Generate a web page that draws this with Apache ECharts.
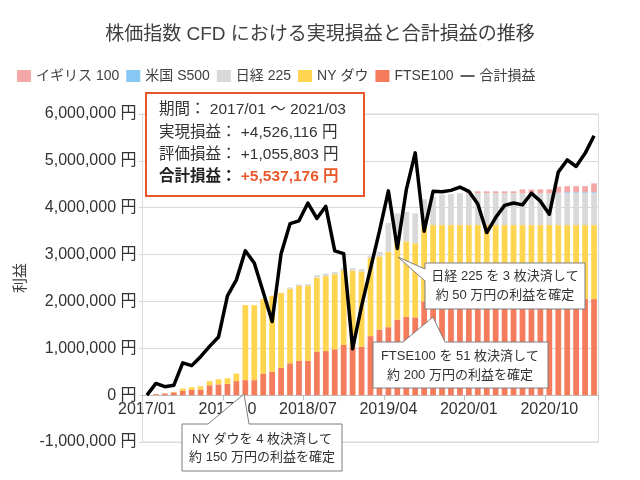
<!DOCTYPE html>
<html>
<head>
<meta charset="utf-8">
<script src="https://cdn.jsdelivr.net/npm/echarts@6/dist/echarts.min.js"></script>
<style>html,body{margin:0;padding:0;background:#fff}#c{width:640px;height:480px}</style>
</head>
<body>
<div id="c"></div>
<script>
const FONT = "'Liberation Sans', 'Noto Sans CJK JP', sans-serif";

const months = [
  '2017/01','2017/02','2017/03','2017/04','2017/05','2017/06','2017/07','2017/08','2017/09','2017/10','2017/11','2017/12',
  '2018/01','2018/02','2018/03','2018/04','2018/05','2018/06','2018/07','2018/08','2018/09','2018/10','2018/11','2018/12',
  '2019/01','2019/02','2019/03','2019/04','2019/05','2019/06','2019/07','2019/08','2019/09','2019/10','2019/11','2019/12',
  '2020/01','2020/02','2020/03','2020/04','2020/05','2020/06','2020/07','2020/08','2020/09','2020/10','2020/11','2020/12',
  '2021/01','2021/02','2021/03'
];

const seriesNames = ['イギリス 100', '米国 S500', '日経 225', 'NY ダウ', 'FTSE100', '合計損益'];

// realized P/L per index (yen), stacked bottom to top: FTSE100, NY, Nikkei, S500, UK100
const ftse100 = [
  0, 20000, 35000, 60000, 90000, 110000, 120000, 210000, 230000, 240000, 300000, 320000,
  320000, 460000, 500000, 580000, 680000, 730000, 730000, 930000, 940000, 980000, 1070000, 1030000,
  1030000, 1260000, 1400000, 1450000, 1610000, 1670000, 1660000, 2000000, 2050000, 2050000, 2050000, 2050000,
  2050000, 2050000, 2050000, 2050000, 2050000, 2050000, 2050000, 2050000, 2050000, 2050000, 2050000, 2050000,
  2050000, 2050000, 2050000
];
const nyDow = [
  0, 0, 5000, 10000, 50000, 60000, 70000, 90000, 110000, 120000, 160000, 1600000,
  1600000, 1590000, 1620000, 1600000, 1590000, 1600000, 1610000, 1580000, 1600000, 1600000, 1600000, 1630000,
  1610000, 1670000, 1560000, 1610000, 1670000, 1610000, 1580000, 1630000, 1580000, 1580000, 1580000, 1580000,
  1580000, 1580000, 1580000, 1580000, 1580000, 1580000, 1580000, 1580000, 1580000, 1580000, 1580000, 1580000,
  1580000, 1580000, 1580000
];
const nikkei225 = [
  0, 0, 0, 0, 0, 0, 0, 0, 0, 0, 0, 0,
  0, 0, 0, 0, 30000, 30000, 30000, 50000, 50000, 50000, 50000, 50000,
  50000, 50000, 100000, 610000, 600000, 630000, 640000, 550000, 600000, 650000, 660000, 680000,
  680000, 680000, 680000, 680000, 680000, 680000, 680000, 680000, 680000, 680000, 680000, 680000,
  680000, 680000, 680000
];
const usS500 = [
  0, 0, 0, 0, 0, 0, 0, 0, 0, 0, 0, 0,
  0, 0, 0, 0, 0, 0, 0, 0, 0, 0, 0, 0,
  0, 0, 0, 0, 0, 0, 0, 0, 0, 0, 0, 0,
  0, 0, 0, 0, 0, 0, 0, 0, 0, 0, 10000, 20000,
  20000, 20000, 20000
];
const uk100 = [
  0, 0, 0, 0, 0, 0, 0, 0, 0, 0, 0, 0,
  0, 0, 0, 0, 0, 0, 0, 0, 0, 0, 0, 0,
  0, 0, 0, 0, 0, 0, 0, 0, 0, 0, 0, 0,
  40000, 40000, 40000, 40000, 40000, 40000, 80000, 80000, 80000, 80000, 130000, 130000,
  130000, 130000, 190000
];
// total P/L (realized + unrealized)
const totalPL = [
  0, 250000, 180000, 210000, 690000, 630000, 820000, 1040000, 1240000, 2120000, 2460000, 3080000,
  2820000, 2200000, 1570000, 3020000, 3660000, 3720000, 4100000, 3770000, 4030000, 3080000, 3020000, 990000,
  1900000, 2700000, 3500000, 4360000, 3130000, 4380000, 5170000, 3500000, 4350000, 4340000, 4370000, 4440000,
  4350000, 4080000, 3470000, 3790000, 4050000, 4100000, 4060000, 4310000, 4140000, 3860000, 4760000, 5020000,
  4880000, 5160000, 5537176
];

const yMin = -1000000, yMax = 6000000, yStep = 1000000;

const colors = {
  uk: '#F4A7A7', us: '#86C8F3', nk: '#D9D9D9', ny: '#FFD54F', ft: '#F47B5B', total: '#000000'
};

function fmtYen(v) {
  return v.toString().replace(/\B(?=(\d{3})+(?!\d))/g, ',') + ' 円';
}

const chart = echarts.init(document.getElementById('c'), null, {renderer: 'canvas'});

const barCommon = {type: 'bar', stack: 'realized', barCategoryGap: '36%', emphasis: {disabled: true}};

const option = {
  animation: false,
  textStyle: {fontFamily: FONT},
  title: {
    text: '株価指数 CFD における実現損益と合計損益の推移',
    left: 'center', top: 20,
    textStyle: {fontFamily: FONT, fontSize: 19, fontWeight: 'normal', color: '#404040'}
  },
  legend: {
    top: 64, left: 12,
    itemWidth: 14, itemHeight: 12, itemGap: 7,
    textStyle: {fontFamily: FONT, fontSize: 14, color: '#404040'},
    data: [
      {name: seriesNames[0], icon: 'rect'},
      {name: seriesNames[1], icon: 'rect'},
      {name: seriesNames[2], icon: 'rect'},
      {name: seriesNames[3], icon: 'rect'},
      {name: seriesNames[4], icon: 'rect'},
      {name: seriesNames[5], icon: 'path://M0,0 L20,0 L20,1.8 L0,1.8 Z', symbolKeepAspect: true}
    ]
  },
  grid: {
    left: 142.5, right: 41.5, top: 114, bottom: 38,
    outerBoundsMode: 'none', containLabel: false,
    show: true, borderColor: '#D9D9D9', borderWidth: 1
  },
  xAxis: {
    type: 'category', data: months, boundaryGap: true,
    axisLine: {onZero: true, lineStyle: {color: '#BFBFBF'}},
    axisTick: {show: true, interval: 8, length: 5, lineStyle: {color: '#BFBFBF'}},
    axisLabel: {interval: 8, fontFamily: FONT, fontSize: 16, color: '#333', margin: -40}
  },
  yAxis: {
    type: 'value', min: yMin, max: yMax, interval: yStep,
    name: '利益', nameLocation: 'middle', nameGap: 112,
    nameTextStyle: {fontFamily: FONT, fontSize: 15, color: '#404040'},
    axisLine: {show: false},
    axisTick: {show: true, length: 4, lineStyle: {color: '#D9D9D9'}},
    splitLine: {lineStyle: {color: '#D9D9D9'}},
    axisLabel: {fontFamily: FONT, fontSize: 16, color: '#333', margin: 6, formatter: fmtYen}
  },
  series: [
    Object.assign({name: seriesNames[4], data: ftse100, itemStyle: {color: colors.ft}}, barCommon),
    Object.assign({name: seriesNames[3], data: nyDow, itemStyle: {color: colors.ny}}, barCommon),
    Object.assign({name: seriesNames[2], data: nikkei225, itemStyle: {color: colors.nk}}, barCommon),
    Object.assign({name: seriesNames[1], data: usS500, itemStyle: {color: colors.us}}, barCommon),
    Object.assign({name: seriesNames[0], data: uk100, itemStyle: {color: colors.uk}}, barCommon),
    {
      name: seriesNames[5], type: 'line', data: totalPL, symbol: 'none', z: 5,
      lineStyle: {color: colors.total, width: 3.5, join: 'round'},
      itemStyle: {color: colors.total}
    }
  ],
  graphic: [
    {
      type: 'rect', z: 100,
      shape: {x: 146, y: 93, width: 218, height: 103},
      style: {fill: '#fff', stroke: '#E8572A', lineWidth: 2}
    },
    {
      type: 'text', z: 101, x: 159, y: 110,
      style: {text: '期間： 2017/01 ～ 2021/03', font: '15.5px ' + FONT, fill: '#333',
        textAlign: 'left', textVerticalAlign: 'middle', verticalAlign: 'middle'}
    },
    {
      type: 'text', z: 101, x: 159, y: 133,
      style: {text: '実現損益： +4,526,116 円', font: '15.5px ' + FONT, fill: '#333',
        textAlign: 'left', textVerticalAlign: 'middle', verticalAlign: 'middle'}
    },
    {
      type: 'text', z: 101, x: 159, y: 155,
      style: {text: '評価損益： +1,055,803 円', font: '15.5px ' + FONT, fill: '#333',
        textAlign: 'left', textVerticalAlign: 'middle', verticalAlign: 'middle'}
    },
    {
      type: 'text', z: 101, x: 159, y: 177,
      style: {
        text: '{b|合計損益：} {o|+5,537,176 円}',
        textAlign: 'left', textVerticalAlign: 'middle', verticalAlign: 'middle',
        font: 'bold 15.5px ' + FONT,
        rich: {
          b: {fontFamily: FONT, fontSize: 15.5, fontWeight: 'bold', fill: '#222', color: '#222'},
          o: {fontFamily: FONT, fontSize: 15.5, fontWeight: 'bold', fill: '#E8572A', color: '#E8572A'}
        }
      }
    },
    // callout: NY dow
    {
      type: 'polygon', z: 100,
      shape: {points: [[182, 424], [208, 424], [244, 394], [249, 424], [342, 424], [342, 471], [182, 471]]},
      style: {fill: '#fff', stroke: '#7F7F7F', lineWidth: 1}
    },
    {
      type: 'text', z: 101, x: 262, y: 439,
      style: {text: 'NY ダウを 4 枚決済して', font: '13px ' + FONT, fill: '#333',
        textAlign: 'center', align: 'center', textVerticalAlign: 'middle', verticalAlign: 'middle'}
    },
    {
      type: 'text', z: 101, x: 262, y: 457,
      style: {text: '約 150 万円の利益を確定', font: '13px ' + FONT, fill: '#333',
        textAlign: 'center', align: 'center', textVerticalAlign: 'middle', verticalAlign: 'middle'}
    },
    // callout: Nikkei
    {
      type: 'polygon', z: 100,
      shape: {points: [[425, 263], [585, 263], [585, 309], [425, 309], [425, 281], [398, 257], [425, 269]]},
      style: {fill: '#fff', stroke: '#7F7F7F', lineWidth: 1}
    },
    {
      type: 'text', z: 101, x: 505, y: 276,
      style: {text: '日経 225 を 3 枚決済して', font: '13px ' + FONT, fill: '#333',
        textAlign: 'center', align: 'center', textVerticalAlign: 'middle', verticalAlign: 'middle'}
    },
    {
      type: 'text', z: 101, x: 505, y: 295,
      style: {text: '約 50 万円の利益を確定', font: '13px ' + FONT, fill: '#333',
        textAlign: 'center', align: 'center', textVerticalAlign: 'middle', verticalAlign: 'middle'}
    },
    // callout: FTSE100
    {
      type: 'polygon', z: 100,
      shape: {points: [[373, 342], [403, 342], [433, 317], [445, 342], [548, 342], [548, 388], [373, 388]]},
      style: {fill: '#fff', stroke: '#7F7F7F', lineWidth: 1}
    },
    {
      type: 'text', z: 101, x: 460, y: 356,
      style: {text: 'FTSE100 を 51 枚決済して', font: '13px ' + FONT, fill: '#333',
        textAlign: 'center', align: 'center', textVerticalAlign: 'middle', verticalAlign: 'middle'}
    },
    {
      type: 'text', z: 101, x: 460, y: 375,
      style: {text: '約 200 万円の利益を確定', font: '13px ' + FONT, fill: '#333',
        textAlign: 'center', align: 'center', textVerticalAlign: 'middle', verticalAlign: 'middle'}
    }
  ]
};

chart.setOption(option);
</script>
</body>
</html>
